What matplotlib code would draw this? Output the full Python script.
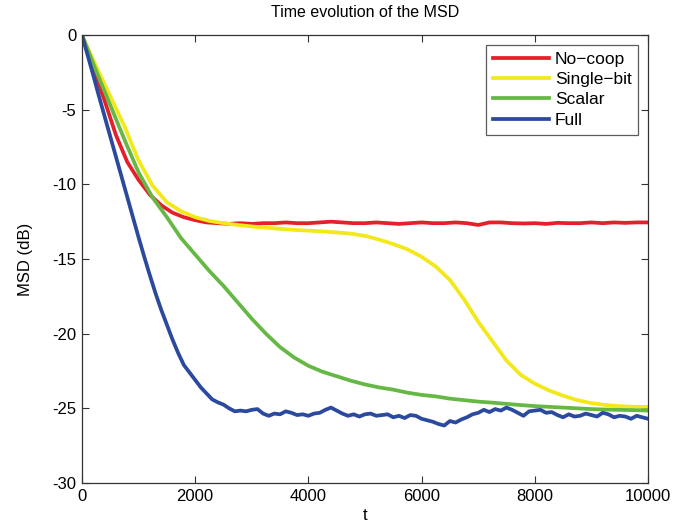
import matplotlib
matplotlib.use("Agg")
import matplotlib.pyplot as plt

plt.rcParams['font.family'] = ['Liberation Sans', 'DejaVu Sans']
plt.rcParams['axes.unicode_minus'] = False

# ---- data ----
t_blue = list(range(0, 10001, 100))
full = [0, -1.35, -2.7, -4.1, -5.45, -6.8, -8.15, -9.5, -10.85, -12.2,
        -13.55, -14.85, -16.1, -17.3, -18.4, -19.4, -20.4, -21.3, -22.1, -22.6,
        -23.1, -23.6, -24.0, -24.4, -24.6, -24.75, -25.0, -25.2, -25.15, -25.2,
        -25.1, -25.05, -25.35, -25.5, -25.35, -25.4, -25.2, -25.3, -25.45, -25.4,
        -25.5, -25.35, -25.3, -25.1, -24.95, -25.15, -25.35, -25.5, -25.4, -25.55,
        -25.4, -25.35, -25.5, -25.45, -25.4, -25.6, -25.5, -25.65, -25.45, -25.5,
        -25.7, -25.8, -25.9, -26.05, -26.15, -25.85, -25.95, -25.75, -25.6, -25.4,
        -25.3, -25.1, -25.25, -25.05, -25.15, -24.95, -25.1, -25.3, -25.5, -25.2,
        -25.15, -25.1, -25.3, -25.25, -25.45, -25.6, -25.4, -25.55, -25.5, -25.35,
        -25.45, -25.55, -25.3, -25.4, -25.6, -25.5, -25.55, -25.7, -25.5, -25.6,
        -25.7]

t_red = list(range(0, 10001, 200))
nocoop = [0, -2.2, -4.4, -6.7, -8.5, -9.7, -10.7, -11.4, -11.9, -12.2,
          -12.4, -12.55, -12.6, -12.65, -12.6, -12.65, -12.6, -12.6, -12.55, -12.6,
          -12.6, -12.55, -12.5, -12.55, -12.6, -12.6, -12.55, -12.6, -12.65, -12.6,
          -12.55, -12.6, -12.6, -12.55, -12.6, -12.72, -12.55, -12.55, -12.6, -12.62,
          -12.6, -12.65, -12.58, -12.6, -12.6, -12.55, -12.6, -12.55, -12.58, -12.55,
          -12.55]

t_coarse = list(range(0, 10001, 250))
single_bit = [0, -2.1, -4.1, -6.1, -8.4, -10.1, -11.2, -11.8, -12.2, -12.45,
              -12.6, -12.72, -12.82, -12.9, -12.98, -13.05, -13.1, -13.15, -13.22, -13.3,
              -13.45, -13.7, -14.0, -14.35, -14.85, -15.5, -16.4, -17.7, -19.2, -20.5,
              -21.8, -22.75, -23.35, -23.8, -24.15, -24.45, -24.65, -24.78, -24.85, -24.9,
              -24.9]
scalar = [0, -2.4, -4.7, -7.0, -9.2, -10.9, -12.2, -13.6, -14.7, -15.8,
          -16.8, -17.9, -19.0, -20.0, -20.9, -21.6, -22.15, -22.55, -22.85, -23.15,
          -23.4, -23.6, -23.75, -23.95, -24.1, -24.2, -24.35, -24.45, -24.55, -24.62,
          -24.7, -24.78, -24.85, -24.9, -24.95, -25.0, -25.05, -25.08, -25.1, -25.12,
          -25.15]

labels = ['No\u2212coop', 'Single\u2212bit', 'Scalar', 'Full']
colors = ['#e6202a', '#f2e81a', '#66b845', '#2b4a9e']

x_ticks = [0, 2000, 4000, 6000, 8000, 10000]
y_ticks = [-30, -25, -20, -15, -10, -5, 0]

# ---- figure ----
fig = plt.figure(figsize=(6.9, 5.25), dpi=100)
ax = fig.add_axes([0.1188, 0.080, 0.8203, 0.8533])

ax.plot(t_red, nocoop, color=colors[0], lw=2.7, label=labels[0])
ax.plot(t_coarse, single_bit, color=colors[1], lw=2.7, label=labels[1])
ax.plot(t_coarse, scalar, color=colors[2], lw=2.7, label=labels[2])
ax.plot(t_blue, full, color=colors[3], lw=2.7, label=labels[3])

ax.set_xlim(0, 10000)
ax.set_ylim(-30, 0)
ax.set_xticks(x_ticks)
ax.set_yticks(y_ticks)
ax.set_xticklabels([str(v) for v in x_ticks])
ax.set_yticklabels([str(v) for v in y_ticks])
ax.tick_params(direction='in', top=True, right=True, labelsize=12, length=5,
               width=0.8, color='#333333', pad=4)
for s in ax.spines.values():
    s.set_color('#333333')
    s.set_linewidth(0.9)

ax.set_xlabel('t', fontsize=12, labelpad=3)
ax.set_ylabel('MSD (dB)', fontsize=12, labelpad=14)
ax.set_title('Time evolution of the MSD', fontsize=11.5, pad=13)

leg = ax.legend(loc='upper right', fontsize=12.5, frameon=True, fancybox=False,
                edgecolor='#333333', handlelength=3.2, borderpad=0.4,
                labelspacing=0.3, handletextpad=0.35, borderaxespad=0.55)
leg.get_frame().set_linewidth(0.9)

fig.savefig('out.png', dpi=100)
